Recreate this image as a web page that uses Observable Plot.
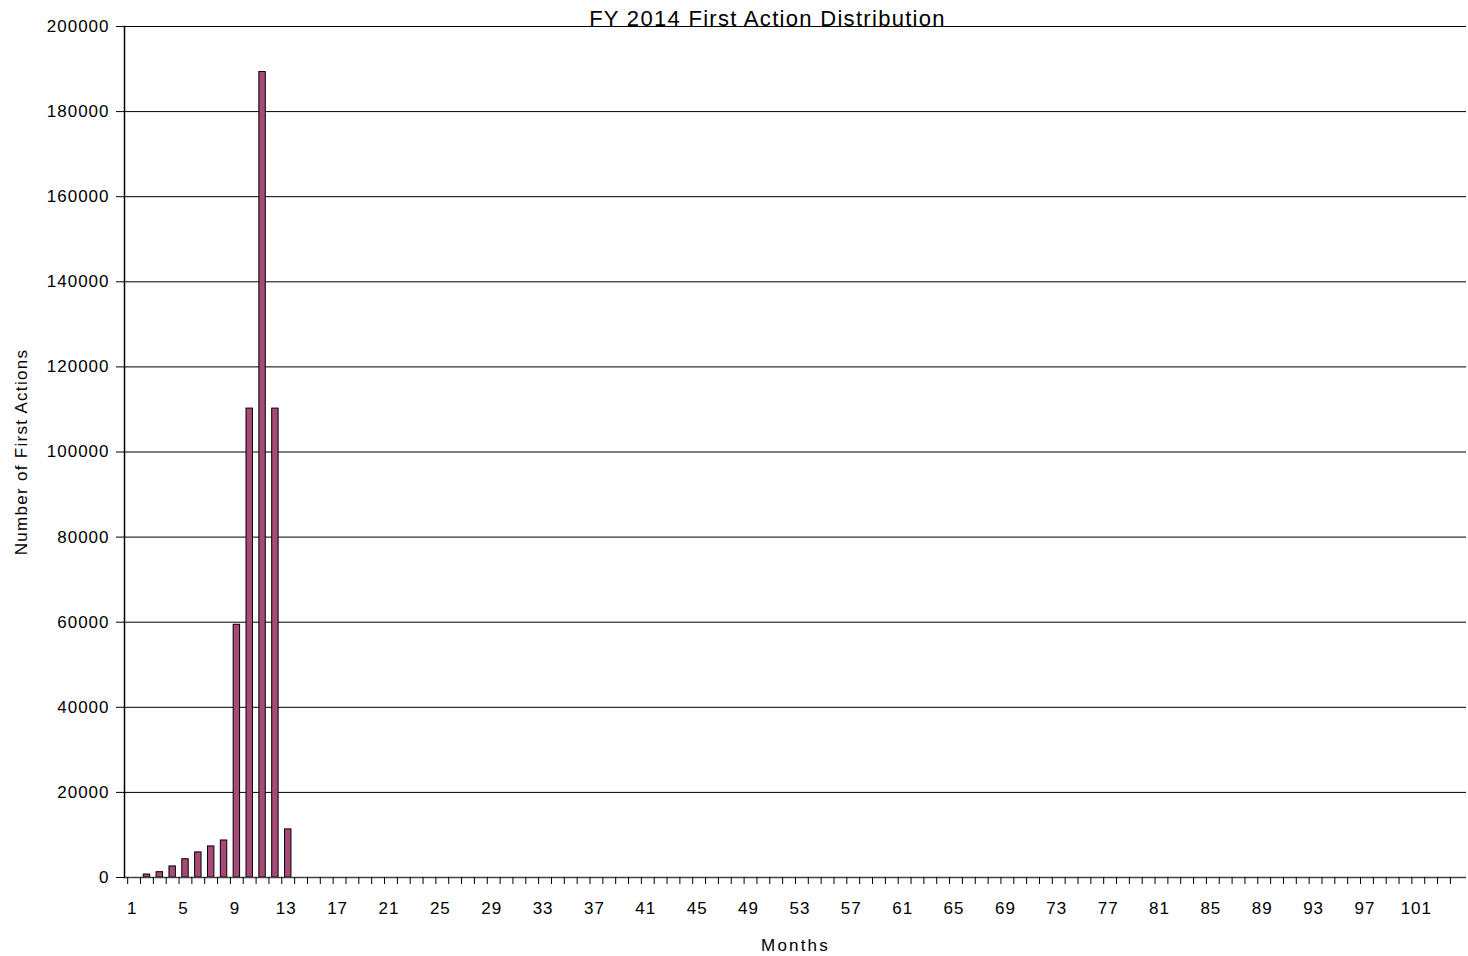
<!DOCTYPE html>
<html>
<head>
<meta charset="utf-8">
<script src="https://cdn.jsdelivr.net/npm/d3@7"></script>
<script src="https://cdn.jsdelivr.net/npm/@observablehq/plot@0.6"></script>
<style>
  html, body { margin: 0; padding: 0; background: #fff; }
  #chart svg { display: block; }
</style>
</head>
<body>
<div id="chart"></div>
<script>
// Data
const titleText = "FY 2014 First Action Distribution";
const xTitle = "Months";
const yTitle = "Number of First Actions";
const months = d3.range(1, 105); // categories 1..104
const nonZeroMonths = [2, 3, 4, 5, 6, 7, 8, 9, 10, 11, 12, 13];
const nonZeroValues = [700, 1250, 2600, 4300, 5900, 7300, 8700, 59400, 110200, 189300, 110200, 11300];
const yTicks = [0, 20000, 40000, 60000, 80000, 100000, 120000, 140000, 160000, 180000, 200000];
const xLabelTicks = months.filter(m => (m - 1) % 4 === 0);

const valueByMonth = new Map(nonZeroMonths.map((m, i) => [m, nonZeroValues[i]]));
const data = months.map(m => ({month: m, value: valueByMonth.get(m) ?? 0}));

const W = 1468, H = 956;
const mL = 124, mR = 2, mT = 26, mB = 79;
const bw = (W - mL - mR) / months.length;
const font = "'Liberation Sans', Arial, sans-serif";

const chart = Plot.plot({
  width: W,
  height: H,
  marginLeft: mL,
  marginRight: mR,
  marginTop: mT,
  marginBottom: mB,
  style: {fontFamily: font, fontSize: "17px", color: "#000", background: "#fff"},
  x: {type: "band", domain: months, padding: 0.5, align: 0.5, label: null},
  y: {domain: [0, 200000], label: null},
  marks: [
    Plot.ruleY(yTicks.filter(t => t > 0), {stroke: "#000", strokeWidth: 1}),
    Plot.barY(data.filter(d => d.value > 0), {x: "month", y: "value", fill: "#a84a78", stroke: "#000", strokeWidth: 1}),
    Plot.ruleY([0], {stroke: "#444", strokeWidth: 1.5}),
    Plot.axisY({ticks: yTicks, tickSize: 8, tickFormat: d => String(d), fontSize: 17, tickPadding: 7, stroke: "#000", label: null}),
    Plot.axisX({ticks: months, tickSize: 7, tickFormat: () => "", dx: -bw / 2, stroke: "#000", label: null}),
    Plot.axisX({ticks: xLabelTicks, tickSize: 0, tickPadding: 24, fontSize: 17, dx: -2, label: null}),
    Plot.frame({anchor: "left", stroke: "#000", strokeWidth: 1.5}),
    Plot.text([titleText], {frameAnchor: "top", lineAnchor: "middle", dy: -8, dx: -28, fontSize: 22, fill: "#000", text: d => d, className: "ttl"}),
    Plot.text([xTitle], {frameAnchor: "bottom", lineAnchor: "middle", dy: 68, fontSize: 17, fill: "#000", text: d => d, className: "xt"}),
    Plot.text([yTitle], {frameAnchor: "left", dx: -103, textAnchor: "middle", rotate: -90, fontSize: 17, fill: "#000", text: d => d, className: "yt"})
  ]
});

chart.querySelectorAll("text").forEach(t => t.style.letterSpacing = "1px");
chart.querySelectorAll(".ttl text").forEach(t => t.style.letterSpacing = "1.3px");
chart.querySelectorAll(".xt text").forEach(t => t.style.letterSpacing = "2.2px");
chart.querySelectorAll(".yt text").forEach(t => t.style.letterSpacing = "1.3px");
document.getElementById("chart").appendChild(chart);
</script>
</body>
</html>
